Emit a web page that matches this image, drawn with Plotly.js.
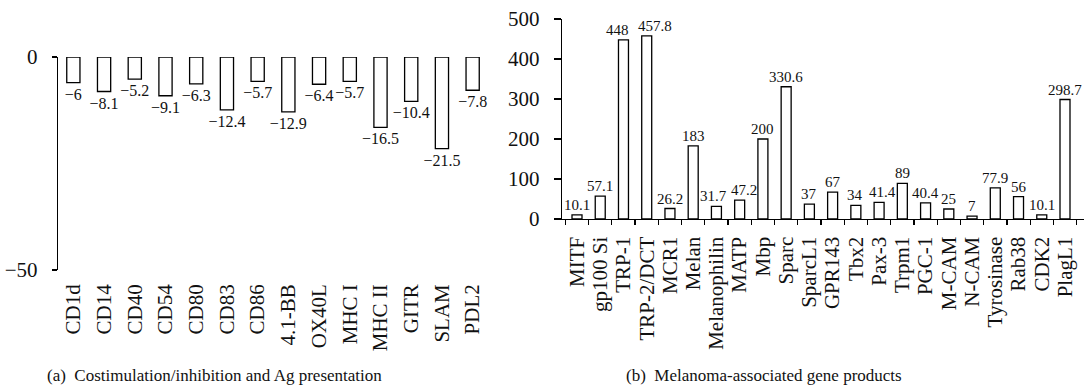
<!DOCTYPE html>
<html><head><meta charset="utf-8">
<script src="https://cdn.plot.ly/plotly-3.0.1.min.js"></script>
<style>html,body{margin:0;padding:0;background:#fff}#chart{width:1088px;height:390px}</style>
</head><body><div id="chart"></div>
<script>
const costimCategories = ['CD1d','CD14','CD40','CD54','CD80','CD83','CD86','4.1-BB','OX40L','MHC I','MHC II','GITR','SLAM','PDL2'];
const costimValues = [-6, -8.1, -5.2, -9.1, -6.3, -12.4, -5.7, -12.9, -6.4, -5.7, -16.5, -10.4, -21.5, -7.8];
const geneCategories = ['MITF','gp100 Si','TRP-1','TRP-2/DCT','MCR1','Melan','Melanophilin','MATP','Mbp','Sparc','SparcL1','GPR143','Tbx2','Pax-3','Trpm1','PGC-1','M-CAM','N-CAM','Tyrosinase','Rab38','CDK2','PlagL1'];
const geneValues = [10.1, 57.1, 448, 457.8, 26.2, 183, 31.7, 47.2, 200, 330.6, 37, 67, 34, 41.4, 89, 40.4, 25, 7, 77.9, 56, 10.1, 298.7];
const leftTicks = [0, -50];
const rightTicks = [0, 100, 200, 300, 400, 500];
const captionA = '(a)  Costimulation/inhibition and Ag presentation';
const captionB = '(b)  Melanoma-associated gene products';

const FONT = 'Liberation Serif, Times New Roman, serif';
const fmt = v => (v < 0 ? '\u2212' + Math.abs(v) : String(v));
const W = 1088, H = 390;
// pixel nudges so adjacent value labels do not collide (style only)
const labelNudge = {2: -6, 3: 8, 6: -3, 7: 4, 12: -1, 13: 3};

const barStyle = {color: '#ffffff', line: {color: '#000', width: 1.3}};

const traces = [
  {type: 'bar', x: costimCategories, y: costimValues, xaxis: 'x', yaxis: 'y',
   marker: barStyle, text: costimValues.map(fmt), textposition: 'outside',
   constraintext: 'none', cliponaxis: false,
   textfont: {family: FONT, size: 16, color: '#111'}, hoverinfo: 'x+y'},
  {type: 'bar', x: geneCategories, y: geneValues, xaxis: 'x2', yaxis: 'y2',
   marker: barStyle, cliponaxis: false, hoverinfo: 'x+y'}
];

const nL = costimCategories.length;
const boundariesL = costimCategories.slice(1).map((c, i) => i + 0.5).concat([nL - 0.5]);

const tickFont = {family: FONT, size: 21, color: '#111'};

const valueAnnotations = geneCategories.map((c, i) => ({
  xref: 'x2', yref: 'y2', x: c, y: geneValues[i], text: fmt(geneValues[i]),
  showarrow: false, xanchor: 'center', yanchor: 'bottom', yshift: 0,
  xshift: labelNudge[i] || 0,
  font: {family: FONT, size: 15, color: '#111'}
}));

const layout = {
  width: W, height: H,
  margin: {l: 0, r: 0, t: 0, b: 0},
  paper_bgcolor: '#fff', plot_bgcolor: 'rgba(0,0,0,0)',
  showlegend: false,
  bargap: 0.57,
  font: {family: FONT, color: '#111'},
  xaxis: {domain: [58 / W, 488 / W], anchor: 'y', type: 'category', side: 'bottom',
    showline: false, ticks: '', tickangle: -90, tickfont: {family: FONT, size: 21, color: '#111'},
    ticklabelstandoff: 9, showgrid: false, zeroline: false, dtick: 1},
  xaxis3: {overlaying: 'x', anchor: 'y', side: 'top', range: [-0.5, nL - 0.5],
    tickmode: 'array', tickvals: boundariesL, ticks: 'outside', ticklen: 4, tickwidth: 1.2,
    tickcolor: '#000', showticklabels: false, showline: true, linecolor: '#000', linewidth: 1.3,
    showgrid: false, zeroline: false},
  yaxis: {domain: [1 - 270 / H, 1 - 57 / H], anchor: 'x', range: [-50, 0],
    tickmode: 'array', tickvals: leftTicks, ticks: 'outside', ticklen: 5, tickwidth: 1.2,
    tickcolor: '#000', showline: true, linecolor: '#000', linewidth: 1.3,
    showgrid: false, zeroline: false, tickfont: tickFont, ticklabelstandoff: 10},
  xaxis2: {domain: [562 / W, 1084 / W], anchor: 'y2', type: 'category',
    tickmode: 'linear', tick0: 0, dtick: 1,
    ticks: 'outside', tickson: 'boundaries', ticklen: 5, tickwidth: 1.2, tickcolor: '#000',
    showline: true, linecolor: '#000', linewidth: 1.3, tickangle: -90,
    tickfont: {family: FONT, size: 21, color: '#111'}, ticklabelstandoff: 8,
    showgrid: false, zeroline: false},
  yaxis2: {domain: [1 - 219 / H, 1 - 19 / H], anchor: 'x2', range: [0, 500],
    tickmode: 'array', tickvals: rightTicks, ticks: 'outside', ticklen: 7, tickwidth: 1.2,
    tickcolor: '#000', showline: true, linecolor: '#000', linewidth: 1.3,
    showgrid: false, zeroline: false, tickfont: tickFont, ticklabelstandoff: 10},
  annotations: valueAnnotations.concat([
    {xref: 'paper', yref: 'paper', x: 214 / W, y: 1 - 375 / H, text: captionA,
     showarrow: false, xanchor: 'center', yanchor: 'middle',
     font: {family: FONT, size: 17, color: '#111'}},
    {xref: 'paper', yref: 'paper', x: 764 / W, y: 1 - 375 / H, text: captionB,
     showarrow: false, xanchor: 'center', yanchor: 'middle',
     font: {family: FONT, size: 17, color: '#111'}}
  ])
};

Plotly.newPlot('chart', traces, layout, {displayModeBar: false, staticPlot: true});
</script>
</body></html>
